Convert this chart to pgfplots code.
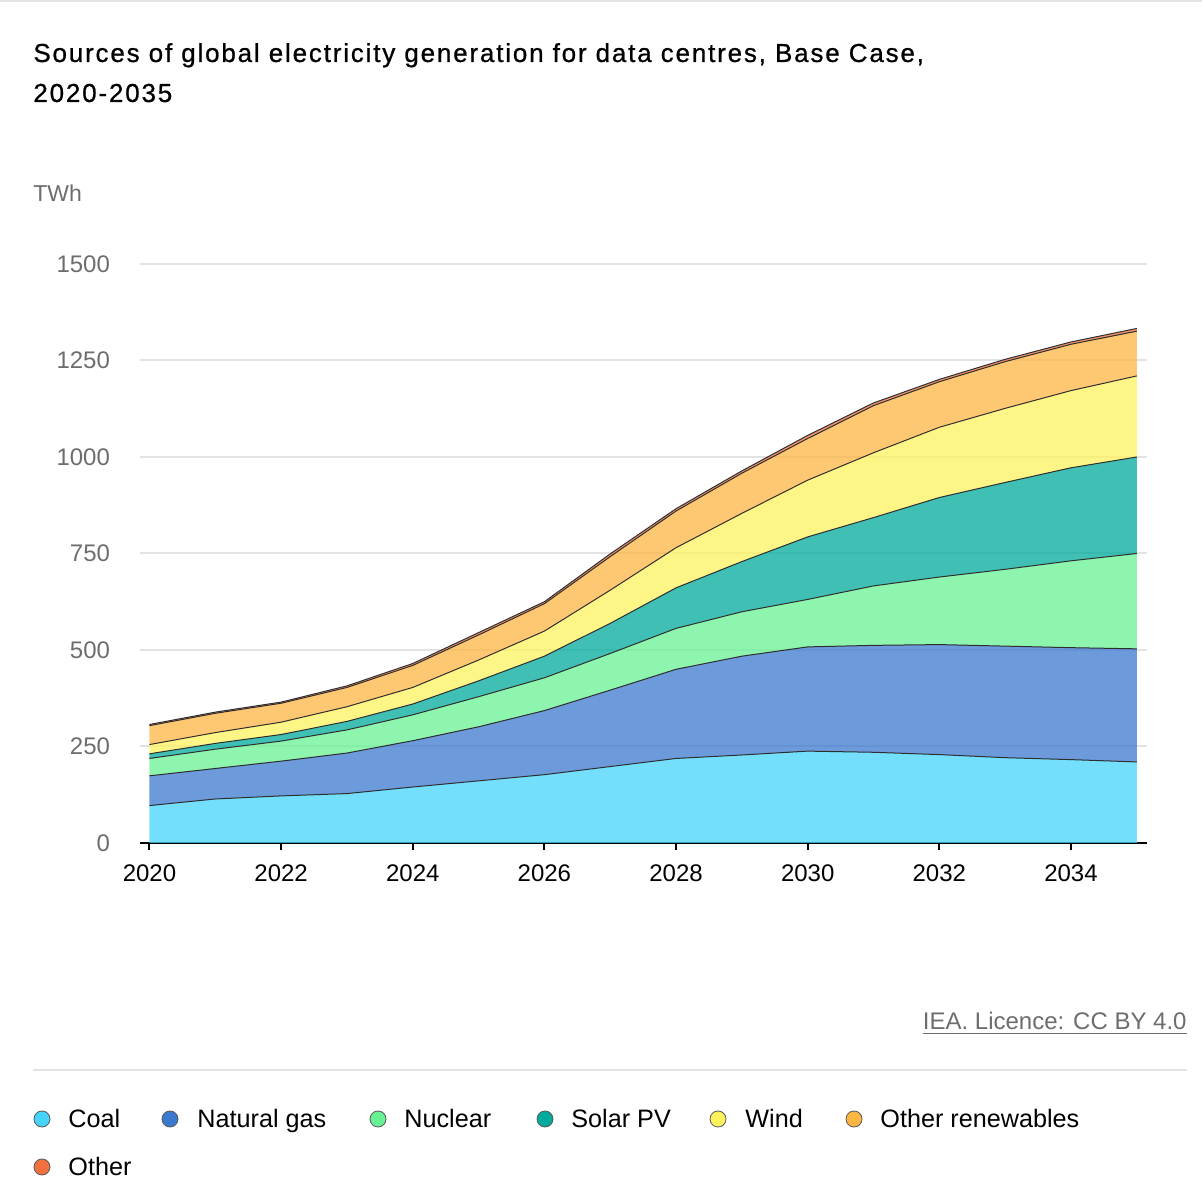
\documentclass[border=0pt]{standalone}
\usepackage{fontspec}
\setmainfont{Liberation Sans}
\newfontfamily\titlefont{Liberation Sans}[FakeBold=0.8, LetterSpace=7]
\usepackage{pgfplots}
\pgfplotsset{compat=1.18}
\usepackage{pgfplotstable}

\definecolor{coalC}{HTML}{46D4FC}
\definecolor{gasC}{HTML}{3B78CF}
\definecolor{nucC}{HTML}{68F293}
\definecolor{solC}{HTML}{00AB9C}
\definecolor{windC}{HTML}{FEF25F}
\definecolor{orenC}{HTML}{FEB643}
\definecolor{othC}{HTML}{F26F3E}
\definecolor{gridC}{HTML}{E3E3E3}
\definecolor{textgray}{HTML}{6D6D6D}
\definecolor{lineC}{HTML}{2E2E2E}

\pgfplotstableread{
year coal gas nuc sol wind oren oth
2020 97 77 45 12 24 49 3
2021 114 79 50 15 28 50 3
2022 122 90 52 17 32 49 3
2023 128 105 60 22 38 50 4
2024 145 120 67 28 43 57 5
2025 161 140 78 41 54 65 6
2026 177 166 85 56 65 71 5
2027 198 198 95 78 86 87 7
2028 219 231 106 105 104 95 6
2029 228 256 115 130 125 104 6
2030 238 270 123 162 147 108 8
2031 235 277 154 177 168 122 7
2032 229 285 175 206 182 118 6
2033 221 289 199 225 192 121 6
2034 216 290 225 241 200 120 6
2035 210 293 247 250 210 116 7
}\datatable

\pgfplotsset{
  base/.style={
    scale only axis, width=503.5pt, height=289.5pt,
    at={(70pt,180pt)}, anchor=south west,
    xmin=2019.856, xmax=2035.155, ymin=0, ymax=1500,
  },
}

\begin{document}
\begin{tikzpicture}[x=1pt,y=1pt]
\useasboundingbox (0,0) rectangle (601,601.5);
\draw[gridC, line width=1.2pt] (0,601) -- (601,601);

% title
\node[anchor=base west, inner sep=0pt, font=\titlefont\fontsize{13}{15}\selectfont] at (16.5,570.5) {Sources of global electricity generation for data centres, Base Case,};
\node[anchor=base west, inner sep=0pt, font=\titlefont\fontsize{13}{15}\selectfont] at (16.5,550.5) {2020-2035};
\node[anchor=base west, inner sep=0pt, font=\fontsize{11.5}{14}\selectfont, text=textgray] at (16.5,500.5) {TWh};

\begin{axis}[base, stack plots=y,
  axis x line*=bottom, axis y line*=left,
  x axis line style={black, line width=1pt, -},
  y axis line style={draw=none},
  xtick={2020,2022,...,2034}, ytick={0,250,...,1500},
  tick align=outside, major tick length=3.5pt,
  xtick style={black, line width=1pt}, ytick style={draw=none},
  ymajorgrids, grid style={gridC, line width=1pt},
  tick label style={font=\fontsize{12}{14}\selectfont},
  yticklabel style={text=textgray, xshift=-8pt},
  xticklabel style={text=black, yshift=-4pt},
  /pgf/number format/1000 sep={}, /pgf/number format/assume math mode=true,
]
\addplot[fill=coalC, fill opacity=0.75, draw=none] table[x=year,y=coal]{\datatable} \closedcycle;
\addplot[fill=gasC, fill opacity=0.75, draw=none] table[x=year,y=gas]{\datatable} \closedcycle;
\addplot[fill=nucC, fill opacity=0.75, draw=none] table[x=year,y=nuc]{\datatable} \closedcycle;
\addplot[fill=solC, fill opacity=0.75, draw=none] table[x=year,y=sol]{\datatable} \closedcycle;
\addplot[fill=windC, fill opacity=0.75, draw=none] table[x=year,y=wind]{\datatable} \closedcycle;
\addplot[fill=orenC, fill opacity=0.75, draw=none] table[x=year,y=oren]{\datatable} \closedcycle;
\addplot[fill=othC, fill opacity=0.75, draw=none] table[x=year,y=oth]{\datatable} \closedcycle;
\end{axis}

\begin{axis}[base, stack plots=y, hide axis]
\addplot[lineC, line width=0.5pt, no marks] table[x=year,y=coal]{\datatable};
\addplot[lineC, line width=0.5pt, no marks] table[x=year,y=gas]{\datatable};
\addplot[lineC, line width=0.5pt, no marks] table[x=year,y=nuc]{\datatable};
\addplot[lineC, line width=0.5pt, no marks] table[x=year,y=sol]{\datatable};
\addplot[lineC, line width=0.5pt, no marks] table[x=year,y=wind]{\datatable};
\addplot[lineC, line width=0.5pt, no marks] table[x=year,y=oren]{\datatable};
\addplot[lineC, line width=0.5pt, no marks] table[x=year,y=oth]{\datatable};
\end{axis}

% source
\node[anchor=base east, inner sep=0pt, font=\fontsize{12}{14}\selectfont, text=textgray] (src) at (593.5,86.5) {IEA. Licence: CC BY 4.0};
\draw[textgray, line width=0.5pt] ([yshift=-1.8pt]src.base west) -- ([yshift=-1.8pt]src.base east);
\draw[gridC, line width=1pt] (16.5,66.5) -- (593.5,66.5);

% legend
\tikzset{lg/.style={draw=black!65, line width=0.4pt}}
\foreach \cx/\tx/\col/\lab in {21/34/coalC/Coal, 85/98.5/gasC/Natural gas, 189/202/nucC/Nuclear, 272.5/285.5/solC/Solar PV, 359/372.5/windC/Wind, 427/440/orenC/Other renewables}{
  \fill[\col, lg] (\cx,42) circle (4pt);
  \node[anchor=base west, inner sep=0pt, font=\fontsize{12.6}{15}\selectfont] at (\tx,37.5) {\lab};
}
\fill[othC, lg] (21,18) circle (4pt);
\node[anchor=base west, inner sep=0pt, font=\fontsize{12.6}{15}\selectfont] at (34,13.5) {Other};
\end{tikzpicture}
\end{document}
